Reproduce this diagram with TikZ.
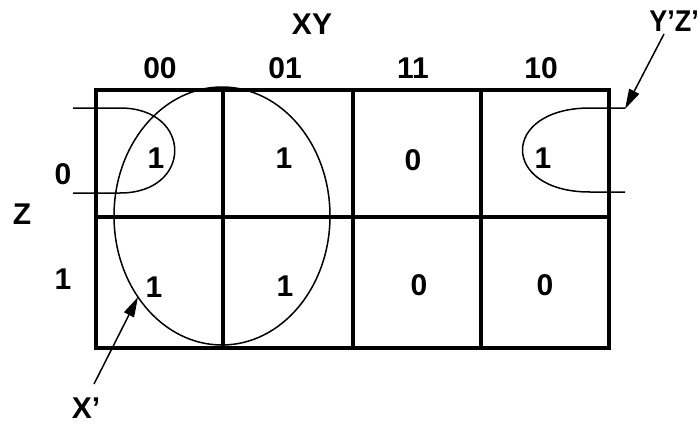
\documentclass[tikz,border=0pt]{standalone}
\usepackage{fontspec}
\setmainfont{Liberation Sans}
\usetikzlibrary{arrows.meta}
\begin{document}
\begin{tikzpicture}[x=1pt,y=-1pt,
  lbl/.style={font=\fontsize{30}{32}\selectfont\bfseries, inner sep=0pt},
  gridline/.style={line width=3.5pt},
  loopline/.style={line width=1.5pt},
  ptr/.style={line width=1.5pt, -{Triangle[length=20pt,width=11pt]}}]
\useasboundingbox[fill=white] (0,0) rectangle (700,436);
% grid
\draw[gridline] (96,90) rectangle (609,348);
\draw[gridline] (96,217) -- (609,217);
\draw[gridline] (223,90) -- (223,348);
\draw[gridline] (353,90) -- (353,348);
\draw[gridline] (481,90) -- (481,348);
% labels
\node[lbl] (xy) at (312,24) {XY};
\node[lbl] (c00) at (160,68) {00};
\node[lbl] (c01) at (285,68) {01};
\node[lbl] (c11) at (413,68) {11};
\node[lbl] (c10) at (541,68) {10};
\node[lbl] (r0) at (63,174) {0};
\node[lbl] (r1) at (63,279) {1};
\node[lbl] (z) at (22,214) {Z};
% cell values
\node[lbl] (v00) at (156,158) {1};
\node[lbl] (v01) at (284,158) {1};
\node[lbl] (v11) at (413,160) {0};
\node[lbl] (v10) at (543,158) {1};
\node[lbl] (w00) at (154,287) {1};
\node[lbl] (w01) at (285,286) {1};
\node[lbl] (w11) at (419,285) {0};
\node[lbl] (w10) at (545,285) {0};
% groupings
\draw[loopline] (222,216) ellipse [x radius=108, y radius=129];
\draw[loopline] (73,108) -- (120,108) .. controls (193,108) and (193,193) .. (120,193) -- (73,193);
\draw[loopline] (625,108) -- (590,108) .. controls (500,108) and (500,192) .. (590,192) -- (625,192);
% pointers
\node[lbl] (xp) at (86,408) {X’};
\node[lbl, anchor=east, xscale=0.9] (yz) at (699,21) {Y’Z’};
\coordinate (xs) at (94,384);
\coordinate (xt) at (138,297);
\coordinate (ys) at (664,34);
\coordinate (yt) at (625,109);
\draw[ptr] (xs) -- (xt);
\draw[ptr] (ys) -- (yt);
\end{tikzpicture}
\end{document}
